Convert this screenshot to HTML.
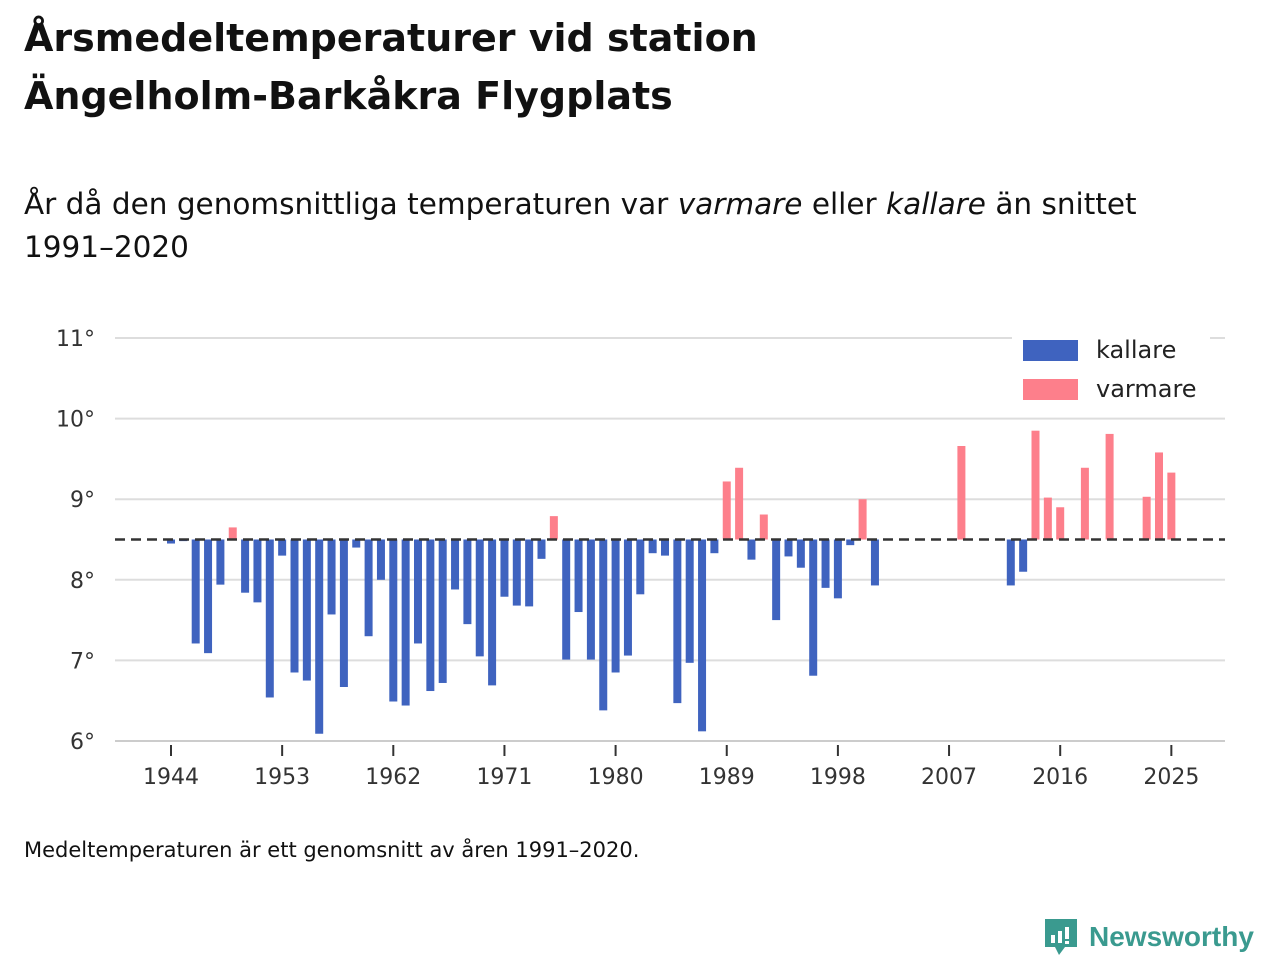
<!DOCTYPE html>
<html><head><meta charset="utf-8"><style>
body{margin:0;width:1280px;height:960px;background:#fff;font-family:"DejaVu Sans","Liberation Sans",sans-serif;color:#111;overflow:hidden;position:relative}
h1{position:absolute;left:24px;top:9px;margin:0;font-size:38px;line-height:58px;font-weight:bold}
.sub{position:absolute;left:24px;top:183px;font-size:29.5px;line-height:43px;margin:0;font-weight:normal}
.foot{position:absolute;left:24px;top:838px;font-size:21px}
.logo{position:absolute;left:1043px;top:917px;display:flex;align-items:center;color:#3a9a8f;font-weight:bold;font-size:28px;font-family:"Liberation Sans",sans-serif}
svg{position:absolute;left:0;top:0}
</style></head><body>
<h1>Årsmedeltemperaturer vid station<br>Ängelholm-Barkåkra Flygplats</h1>
<p class="sub">År då den genomsnittliga temperaturen var <i>varmare</i> eller <i>kallare</i> än snittet<br>1991–2020</p>
<svg id="chart" width="1280" height="960"></svg>
<div class="foot">Medeltemperaturen är ett genomsnitt av åren 1991–2020.</div>
<div class="logo"><svg style="position:static;margin-right:10px" width="36" height="40" viewBox="0 0 36 40"><path d="M2 2h32v28H22l-6 8-4-8H2z" fill="#3a9a8f"/><rect x="8" y="18" width="4" height="8" fill="#fff"/><rect x="15" y="14" width="4" height="12" fill="#fff"/><rect x="22" y="10" width="4" height="12" fill="#fff"/><rect x="22" y="24" width="4" height="3" fill="#fff"/></svg>Newsworthy</div>
<script>
const years=[1944,1945,1946,1947,1948,1949,1950,1951,1952,1953,1954,1955,1956,1957,1958,1959,1960,1961,1962,1963,1964,1965,1966,1967,1968,1969,1970,1971,1972,1973,1974,1975,1976,1977,1978,1979,1980,1981,1982,1983,1984,1985,1986,1987,1988,1989,1990,1991,1992,1993,1994,1995,1996,1997,1998,1999,2000,2001,2008,2012,2013,2014,2015,2016,2018,2020,2023,2024,2025];
const temps=[8.45,8.48,7.21,7.09,7.94,8.65,7.84,7.72,6.54,8.30,6.85,6.75,6.09,7.57,6.67,8.40,7.30,8.0,6.49,6.44,7.21,6.62,6.72,7.88,7.45,7.05,6.69,7.79,7.68,7.67,8.26,8.79,7.01,7.60,7.01,6.38,6.85,7.06,7.82,8.33,8.30,6.47,6.97,6.12,8.33,9.22,9.39,8.25,8.81,7.50,8.29,8.15,6.81,7.90,7.77,8.43,9.0,7.93,9.66,7.93,8.1,9.85,9.02,8.90,9.39,9.81,9.03,9.58,9.33];
const baseline=8.5;
const yTicks=[6,7,8,9,10,11];
const xTicks=[1944,1953,1962,1971,1980,1989,1998,2007,2016,2025];
const NS="http://www.w3.org/2000/svg";
const svg=document.getElementById('chart');
const X=y=>171+(y-1944)*12.35;
const Y=v=>741-(v-6)*80.6;
function mk(t,a){const e=document.createElementNS(NS,t);for(const k in a)e.setAttribute(k,a[k]);svg.appendChild(e);return e;}
yTicks.forEach(t=>{
 const l=mk('line',{x1:115,x2:1225,y1:Y(t),y2:Y(t),stroke:t===6?'#ccc':'#ddd','stroke-width':2});
 
 
 const tx=mk('text',{x:95,y:Y(t)+8,'text-anchor':'end','font-size':22,fill:'#333','font-family':'DejaVu Sans,sans-serif'});
 tx.textContent=t+'°';
 
 
});
xTicks.forEach(t=>{
 const l=mk('line',{x1:X(t),x2:X(t),y1:745,y2:756,stroke:'#333','stroke-width':2});
 
 
 const tx=mk('text',{x:X(t),y:784,'text-anchor':'middle','font-size':22,fill:'#333','font-family':'DejaVu Sans,sans-serif'});
 tx.textContent=t;
 
 
});
years.forEach((yr,i)=>{
 const v=temps[i];const warm=v>baseline;
 const y1=Y(Math.max(v,baseline)),y2=Y(Math.min(v,baseline));
 const r=mk('rect',{x:X(yr)-4,y:y1,width:8,height:Math.max(1,y2-y1),fill:warm?'#fd7f8b':'#3f63bf'});
 
 
});
const bl=mk('line',{x1:115,x2:1225,y1:Y(baseline),y2:Y(baseline),stroke:'#333','stroke-width':2.5,'stroke-dasharray':'10,6'});


const lg=mk('rect',{x:1012,y:328,width:198,height:80,fill:'#fff'});


[['kallare','#3f63bf',350],['varmare','#fd7f8b',389]].forEach(([n,c,y])=>{
 const r=mk('rect',{x:1023,y:y-10,width:55,height:21,fill:c});
 
 
 const t=mk('text',{x:1096,y:y+8,'font-size':24,fill:'#222','font-family':'DejaVu Sans,sans-serif'});
 t.textContent=n;
 
 
});
</script>
</body></html>
